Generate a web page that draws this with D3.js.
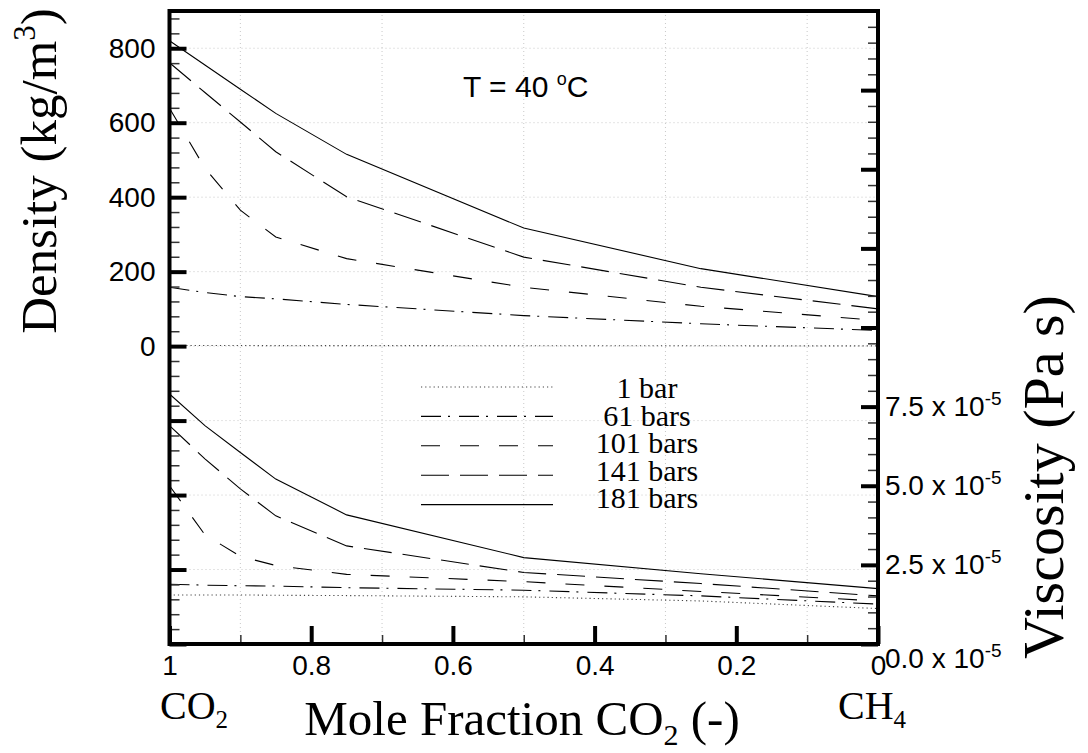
<!DOCTYPE html>
<html>
<head>
<meta charset="utf-8">
<script src="https://cdn.jsdelivr.net/npm/d3@7"></script>
<style>
  body { margin: 0; background: #fff; }
  svg { display: block; }
</style>
</head>
<body>
<div id="chart"></div>
<script>
const moleFraction = [1, 0.95, 0.9, 0.85, 0.75, 0.5, 0.25, 0];
const pressureLabels = ["1 bar", "61 bars", "101 bars", "141 bars", "181 bars"];

// density (kg/m3)
const density1 = [1.7, 1.6, 1.5, 1.4, 1.3, 1.1, 0.85, 0.6];
const density61 = [158, 144, 133, 127, 112, 82, 60, 42];
const density101 = [639, 478, 365, 293, 235, 158, 107, 69];
const density141 = [761, 681, 602, 522, 401, 239, 158, 100];
const density181 = [820, 755, 690, 625, 515, 317, 208, 133];

// viscosity (x 10^-5 Pa s)
const viscosity1 = [1.55, 1.55, 1.55, 1.54, 1.53, 1.49, 1.36, 1.12];
const viscosity61 = [1.89, 1.86, 1.84, 1.83, 1.78, 1.70, 1.52, 1.26];
const viscosity101 = [5.0, 3.45, 2.77, 2.48, 2.2, 1.97, 1.66, 1.36];
const viscosity141 = [6.9, 5.85, 4.9, 4.05, 3.1, 2.26, 1.91, 1.52];
const viscosity181 = [7.9, 6.9, 6.05, 5.21, 4.08, 2.73, 2.22, 1.75];

const densityTicks = [0, 200, 400, 600, 800];
const viscosityTicks = [0, 2.5, 5, 7.5];
const fractionTicks = [1, 0.8, 0.6, 0.4, 0.2, 0];

const SERIF = '"Liberation Serif", "Times New Roman", serif';
const SANS = '"Liberation Sans", Arial, Helvetica, sans-serif';

const densities = [density1, density61, density101, density141, density181];
const viscosities = [viscosity1, viscosity61, viscosity101, viscosity141, viscosity181];
const dashes = ["1.2,3", "20,7,2,9", "19,20", "28,11", null];

const series = pressureLabels.map((label, i) => ({
  label,
  dash: dashes[i],
  dens: moleFraction.map((f, j) => ({ f, v: densities[i][j] })),
  visc: moleFraction.map((f, j) => ({ f, v: viscosities[i][j] }))
}));

const width = 1088, height = 753;
const plotL = 169.5, plotR = 878, plotT = 11, plotB = 644;

const svg = d3.select("#chart").append("svg")
  .attr("width", width)
  .attr("height", height);

const x = d3.scaleLinear().domain([1, 0]).range([plotL, plotR]);
const yD = d3.scaleLinear().domain([-800, 900]).range([plotB, plotT]);
const yV = d3.scaleLinear().domain([0, 20]).range([plotB, plotT]);

// faint dotted grid
const grid = svg.append("g")
  .attr("stroke", "#c8c8c8")
  .attr("stroke-width", 1)
  .attr("stroke-dasharray", "1,3");

grid.selectAll("line.h")
  .data(d3.range(-600, 801, 200))
  .enter().append("line")
  .attr("x1", plotL).attr("x2", plotR)
  .attr("y1", d => yD(d)).attr("y2", d => yD(d));

grid.selectAll("line.v")
  .data([0.9, 0.7, 0.5, 0.3, 0.1])
  .enter().append("line")
  .attr("y1", plotT).attr("y2", plotB)
  .attr("x1", d => x(d)).attr("x2", d => x(d));

// curves
const densLine = d3.line().x(d => x(d.f)).y(d => yD(d.v));
const viscLine = d3.line().x(d => x(d.f)).y(d => yV(d.v));

const curves = svg.append("g")
  .attr("fill", "none")
  .attr("stroke", "#000")
  .attr("stroke-width", 1.1);

curves.selectAll("path.dens")
  .data(series)
  .enter().append("path")
  .attr("d", d => densLine(d.dens))
  .attr("stroke", d => d.dash === dashes[0] ? "#444" : "#000")
  .attr("stroke-dasharray", d => d.dash);

curves.selectAll("path.visc")
  .data(series)
  .enter().append("path")
  .attr("d", d => viscLine(d.visc))
  .attr("stroke", d => d.dash === dashes[0] ? "#444" : "#000")
  .attr("stroke-dasharray", d => d.dash);

// legend
const legend = svg.append("g");
const leg = legend.selectAll("g")
  .data(series)
  .enter().append("g");

leg.append("line")
  .attr("x1", 421).attr("x2", 553)
  .attr("y1", (d, i) => 387 + i * 29.4)
  .attr("y2", (d, i) => 387 + i * 29.4)
  .attr("stroke", d => d.dash === dashes[0] ? "#444" : "#000")
  .attr("stroke-width", 1.1)
  .attr("stroke-dasharray", d => d.dash);

leg.append("text")
  .attr("x", 647)
  .attr("y", (d, i) => 398 + i * 27.6)
  .attr("text-anchor", "middle")
  .attr("font-family", SERIF)
  .attr("font-size", 30)
  .text(d => d.label);

// axes
const styleAxis = (g, size) => {
  g.select(".domain").remove();
  g.attr("font-family", SANS).attr("font-size", size).attr("fill", "#000");
  g.selectAll(".tick line").attr("stroke", "#000");
  g.selectAll(".tick text").attr("fill", "#000");
};

// left: density
svg.append("g")
  .attr("transform", `translate(${plotL},0)`)
  .call(d3.axisLeft(yD).tickValues(d3.range(-760, 900, 40).filter(d => d % 200 !== 0))
    .tickSize(-10).tickFormat(""))
  .call(g => styleAxis(g, 28))
  .call(g => g.selectAll(".tick line").attr("stroke-width", 1.5).attr("stroke", "#333"));

svg.append("g")
  .attr("transform", `translate(${plotL},0)`)
  .call(d3.axisLeft(yD).tickValues(d3.range(-800, 801, 200))
    .tickSize(-17).tickPadding(14)
    .tickFormat(d => densityTicks.includes(d) ? d : ""))
  .call(g => styleAxis(g, 28))
  .call(g => g.selectAll(".tick line").attr("stroke-width", 4));

// right: viscosity
svg.append("g")
  .attr("transform", `translate(${plotR},0)`)
  .call(d3.axisRight(yV).tickValues(d3.range(1, 40).filter(i => i % 5 !== 0).map(i => i * 0.5))
    .tickSize(-10).tickFormat(""))
  .call(g => styleAxis(g, 28))
  .call(g => g.selectAll(".tick line").attr("stroke-width", 1.5).attr("stroke", "#333"));

svg.append("g")
  .attr("transform", `translate(${plotR},0)`)
  .call(d3.axisRight(yV).tickValues(d3.range(0, 8).map(i => i * 2.5))
    .tickSize(-17).tickPadding(7).tickFormat(""))
  .call(g => styleAxis(g, 28))
  .call(g => g.selectAll(".tick line").attr("stroke-width", 4))
  .call(g => g.selectAll(".tick text")
    .filter(d => viscosityTicks.includes(d))
    .attr("dy", d => d === 0 ? "0.85em" : "0.32em")
    .call(t => t.append("tspan").text(d => d.toFixed(1) + " x 10"))
    .call(t => t.append("tspan").attr("dy", -11).attr("font-size", 19).text("-5")));

// bottom: mole fraction
svg.append("g")
  .attr("transform", `translate(0,${plotB})`)
  .call(d3.axisBottom(x).tickValues([0.9, 0.7, 0.5, 0.3, 0.1]).tickSize(-9).tickFormat(""))
  .call(g => styleAxis(g, 28))
  .call(g => g.selectAll(".tick line").attr("stroke-width", 1.5).attr("stroke", "#333"));

svg.append("g")
  .attr("transform", `translate(0,${plotB})`)
  .call(d3.axisBottom(x).tickValues(fractionTicks).tickSize(-18).tickPadding(11)
    .tickFormat(d => String(d)))
  .call(g => styleAxis(g, 28))
  .call(g => g.selectAll(".tick line").attr("stroke-width", 4));

// frame
svg.append("rect")
  .attr("x", plotL).attr("y", plotT)
  .attr("width", plotR - plotL).attr("height", plotB - plotT)
  .attr("fill", "none")
  .attr("stroke", "#000")
  .attr("stroke-width", 4);

// annotation
const tLabel = svg.append("text")
  .attr("x", 463).attr("y", 97)
  .attr("font-family", SANS).attr("font-size", 30);
tLabel.append("tspan").text("T = 40 ");
tLabel.append("tspan").attr("dy", -12).attr("font-size", 18).text("o");
tLabel.append("tspan").attr("dy", 12).text("C");

// titles
const densTitle = svg.append("text")
  .attr("transform", "translate(56,171) rotate(-90)")
  .attr("text-anchor", "middle")
  .attr("font-family", SERIF).attr("font-size", 51);
densTitle.append("tspan").text("Density (kg/m");
densTitle.append("tspan").attr("dy", -21).attr("font-size", 31).text("3");
densTitle.append("tspan").attr("dy", 21).text(")");

svg.append("text")
  .attr("transform", "translate(1063,477) rotate(-90)")
  .attr("text-anchor", "middle")
  .attr("font-family", SERIF).attr("font-size", 58)
  .text("Viscosity (Pa s)");

const xTitle = svg.append("text")
  .attr("x", 522).attr("y", 735)
  .attr("text-anchor", "middle")
  .attr("font-family", SERIF).attr("font-size", 49);
xTitle.append("tspan").text("Mole Fraction CO");
xTitle.append("tspan").attr("dy", 10).attr("font-size", 30).text("2");
xTitle.append("tspan").attr("dy", -10).text(" (-)");

const co2 = svg.append("text")
  .attr("x", 160).attr("y", 719)
  .attr("font-family", SERIF).attr("font-size", 40);
co2.append("tspan").text("CO");
co2.append("tspan").attr("dy", 9).attr("font-size", 25).text("2");

const ch4 = svg.append("text")
  .attr("x", 838).attr("y", 719)
  .attr("font-family", SERIF).attr("font-size", 40);
ch4.append("tspan").text("CH");
ch4.append("tspan").attr("dy", 9).attr("font-size", 25).text("4");
</script>
</body>
</html>
